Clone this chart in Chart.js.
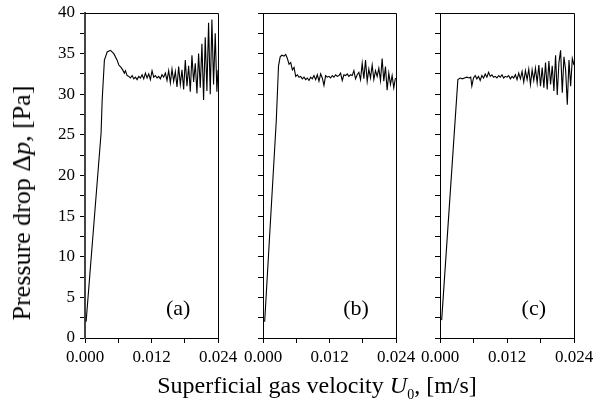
<!DOCTYPE html>
<html>
<head>
<meta charset="utf-8">
<script src="https://cdn.jsdelivr.net/npm/chart.js@4.4.1/dist/chart.umd.min.js"></script>
<style>
  body { margin: 0; background: #fff; }
  #wrap { position: relative; width: 605px; height: 410px; font-family: "Liberation Serif", "Times New Roman", serif; color: #000; }
  #wrap canvas { position: absolute; left: 0; top: 0; }
  .ttl { position: absolute; font-size: 24px; white-space: nowrap; line-height: 1; }
  #xTitle { left: 317px; top: 373px; transform: translateX(-50%); }
  #yTitle { left: 22px; top: 203px; font-size: 26px; transform: translate(-50%, -50%) rotate(-90deg); }
  sub { font-size: 14px; vertical-align: -6px; line-height: 0; }
</style>
</head>
<body>
<div id="wrap">
  <canvas id="chartA" width="605" height="410"></canvas>
  <canvas id="chartB" width="605" height="410"></canvas>
  <canvas id="chartC" width="605" height="410"></canvas>
  <div class="ttl" id="xTitle">Superficial gas velocity <i>U</i><sub>0</sub>, [m/s]</div>
  <div class="ttl" id="yTitle">Pressure drop &Delta;<i>p</i>, [Pa]</div>
</div>
<script>
// superficial gas velocity [m/s] and pressure drop [Pa] for each run
const velA = [0.0002, 0.0029, 0.0031, 0.0035, 0.0040, 0.0046, 0.0052, 0.0058, 0.0061, 0.0065, 0.0068, 0.0071, 0.0073, 0.0076, 0.0079,
  0.0082, 0.0085, 0.0088, 0.0091, 0.0094, 0.0097, 0.0100, 0.0103, 0.0106, 0.0109, 0.0112, 0.0115, 0.0118, 0.0121, 0.0124,
  0.0127, 0.0130, 0.0133, 0.0136, 0.0139, 0.0142, 0.0145, 0.0148, 0.0151, 0.0154, 0.0157, 0.0160, 0.0163, 0.0166, 0.0169,
  0.0172, 0.0175, 0.0178, 0.0181, 0.0184, 0.0187, 0.0190, 0.0193, 0.0196, 0.0199, 0.0202, 0.0205, 0.0208, 0.0211, 0.0214,
  0.0217, 0.0220, 0.0223, 0.0226, 0.0229, 0.0232, 0.0235, 0.0238, 0.0240];
const dpA = [2.0, 25.2, 29.3, 34.2, 35.2, 35.4, 35.0, 34.2, 33.6, 33.3, 33.0, 32.6, 32.9, 32.3, 32.2,
  32.0, 32.3, 31.9, 32.1, 31.8, 32.2, 32.0, 32.4, 31.9, 32.6, 32.0, 32.5, 31.8, 32.9, 32.1,
  32.3, 32.0, 32.2, 31.9, 32.4, 32.1, 32.6, 31.7, 32.9, 31.4, 33.1, 31.6, 32.8, 30.9, 33.4,
  31.2, 33.0, 30.6, 34.2, 31.0, 33.5, 30.3, 34.8, 31.5, 33.8, 30.1, 35.0, 30.8, 36.2, 29.3,
  37.0, 30.4, 38.8, 30.0, 39.2, 31.2, 37.5, 30.3, 33.0];

const velB = [0.0003, 0.0024, 0.0028, 0.0031, 0.0034, 0.0038, 0.0041, 0.0044, 0.0047, 0.0050, 0.0053, 0.0056, 0.0059,
  0.0062, 0.0065, 0.0068, 0.0071, 0.0074, 0.0077, 0.0080, 0.0083, 0.0086, 0.0089, 0.0092, 0.0095, 0.0098, 0.0101, 0.0104,
  0.0107, 0.0110, 0.0113, 0.0116, 0.0119, 0.0122, 0.0125, 0.0128, 0.0131, 0.0134, 0.0137, 0.0140, 0.0143, 0.0146, 0.0149,
  0.0152, 0.0155, 0.0158, 0.0161, 0.0164, 0.0167, 0.0170, 0.0173, 0.0176, 0.0179, 0.0182, 0.0185, 0.0188, 0.0191, 0.0194,
  0.0197, 0.0200, 0.0203, 0.0206, 0.0209, 0.0212, 0.0215, 0.0218, 0.0221, 0.0224, 0.0227, 0.0230, 0.0233, 0.0236, 0.0239];
const dpB = [2.0, 26.8, 33.5, 34.6, 34.8, 34.7, 34.9, 34.4, 33.7, 33.9, 33.0, 33.3, 32.2,
  32.4, 32.1, 32.2, 31.9, 32.1, 31.8, 32.0, 31.7, 32.1, 31.9, 32.3, 31.8, 32.4, 31.6, 32.5,
  32.0, 31.1, 32.3, 32.1, 32.2, 32.0, 32.3, 32.1, 32.4, 32.2, 32.3, 32.6, 31.7, 32.4, 32.3,
  32.5, 32.2, 32.4, 32.3, 32.9, 31.9, 32.4, 32.7, 31.8, 33.8, 31.9, 34.2, 31.6, 33.1, 32.0,
  33.6, 31.8, 32.9, 32.2, 33.2, 31.7, 34.4, 31.6, 33.4, 30.5, 32.6, 31.2, 32.3, 30.8, 32.0];

const velC = [0.0003, 0.0032, 0.0036, 0.0040, 0.0044, 0.0048, 0.0052, 0.0055, 0.0057,
  0.0060, 0.0063, 0.0066, 0.0069, 0.0072, 0.0075, 0.0078, 0.0081, 0.0084, 0.0087, 0.0090, 0.0093, 0.0096, 0.0099,
  0.0102, 0.0105, 0.0108, 0.0111, 0.0114, 0.0117, 0.0120, 0.0123, 0.0126, 0.0129, 0.0132, 0.0135, 0.0138, 0.0141,
  0.0144, 0.0147, 0.0150, 0.0153, 0.0156, 0.0159, 0.0162, 0.0165, 0.0168, 0.0171, 0.0174, 0.0177, 0.0180, 0.0183,
  0.0186, 0.0189, 0.0192, 0.0195, 0.0198, 0.0201, 0.0204, 0.0207, 0.0210, 0.0213, 0.0216, 0.0219, 0.0222, 0.0225,
  0.0228, 0.0231, 0.0234, 0.0237, 0.0240];
const dpC = [2.2, 31.8, 32.0, 31.9, 32.0, 32.1, 32.0, 32.1, 31.0,
  32.0, 32.3, 31.9, 32.2, 31.7, 32.3, 32.0, 32.5, 32.1, 32.7, 32.2, 32.4, 32.1, 32.2,
  32.0, 32.3, 32.1, 32.4, 32.0, 32.2, 32.1, 32.3, 31.9, 32.2, 32.0, 32.4, 31.8, 32.6,
  31.9, 32.8, 31.5, 32.9, 31.8, 33.1, 31.2, 33.0, 31.7, 33.2, 31.4, 33.6, 31.0, 33.3,
  30.8, 33.9, 30.6, 34.1, 31.2, 33.5, 30.4, 34.8, 29.9, 33.9, 35.4, 30.2, 34.6, 33.0,
  28.7, 34.2, 31.0, 34.4, 33.6];

const panelNames = ['(a)', '(b)', '(c)'];
const xMin = 0, xMax = 0.024, xStep = 0.006;
const yMin = 0, yMax = 40, yStep = 2.5;

Chart.defaults.font.family = '"Liberation Serif", "Times New Roman", serif';
Chart.defaults.font.size = 17;
Chart.defaults.color = '#000';

// box outline on the top and right of each plot, plus the panel letter
const framePlugin = {
  id: 'frame',
  afterDraw(chart, args, opts) {
    const { ctx, chartArea: a, scales } = chart;
    ctx.save();
    ctx.strokeStyle = '#000';
    ctx.lineWidth = 1;
    ctx.beginPath();
    ctx.moveTo(a.left, a.top + 0.5);
    ctx.lineTo(a.right + 0.5, a.top + 0.5);
    ctx.lineTo(a.right + 0.5, a.bottom);
    ctx.stroke();
    ctx.font = '22px "Liberation Serif", serif';
    ctx.fillStyle = '#000';
    ctx.textAlign = 'center';
    ctx.textBaseline = 'middle';
    ctx.fillText(opts.label, scales.x.getPixelForValue(0.0168), scales.y.getPixelForValue(3.5));
    ctx.restore();
  }
};

function makePanel(id, vel, dp, label, left, right, showYLabels, axisWidth) {
  const points = vel.map((v, i) => ({ x: v, y: dp[i] }));
  new Chart(document.getElementById(id), {
    type: 'line',
    data: {
      datasets: [{
        data: points,
        borderColor: '#000',
        borderWidth: 1.1,
        pointRadius: 0,
        tension: 0,
        fill: false
      }]
    },
    options: {
      responsive: false,
      animation: false,
      events: [],
      layout: { padding: { left: 0, top: 13, right: 605 - right, bottom: 0 } },
      plugins: {
        legend: { display: false },
        tooltip: { enabled: false },
        frame: { label: label }
      },
      scales: {
        x: {
          type: 'linear',
          min: xMin,
          max: xMax,
          afterFit(s) { s.height = 72; s.paddingLeft = 0; s.paddingRight = 0; },
          ticks: {
            stepSize: xStep,
            autoSkip: false,
            maxRotation: 0,
            minRotation: 0,
            padding: 4,
            callback: (v, i) => (i % 2 === 0 ? v.toFixed(3) : '')
          },
          grid: { drawOnChartArea: false, tickLength: 5, color: '#000', lineWidth: 1 },
          border: { color: '#000', width: 1 }
        },
        y: {
          min: yMin,
          max: yMax,
          afterFit(s) { s.width = left; s.paddingTop = 0; s.paddingBottom = 0; },
          ticks: {
            stepSize: yStep,
            autoSkip: false,
            padding: 5,
            callback: v => (showYLabels && v % 5 === 0 ? String(v) : '')
          },
          grid: { drawOnChartArea: false, tickLength: 5, color: '#000', lineWidth: 1 },
          border: { color: axisWidth > 1 ? '#444' : '#000', width: axisWidth }
        }
      }
    },
    plugins: [framePlugin]
  });
}

makePanel('chartA', velA, dpA, panelNames[0], 85, 218, true, 2);
makePanel('chartB', velB, dpB, panelNames[1], 263, 396, false, 1);
makePanel('chartC', velC, dpC, panelNames[2], 440, 574, false, 1);
</script>
</body>
</html>
